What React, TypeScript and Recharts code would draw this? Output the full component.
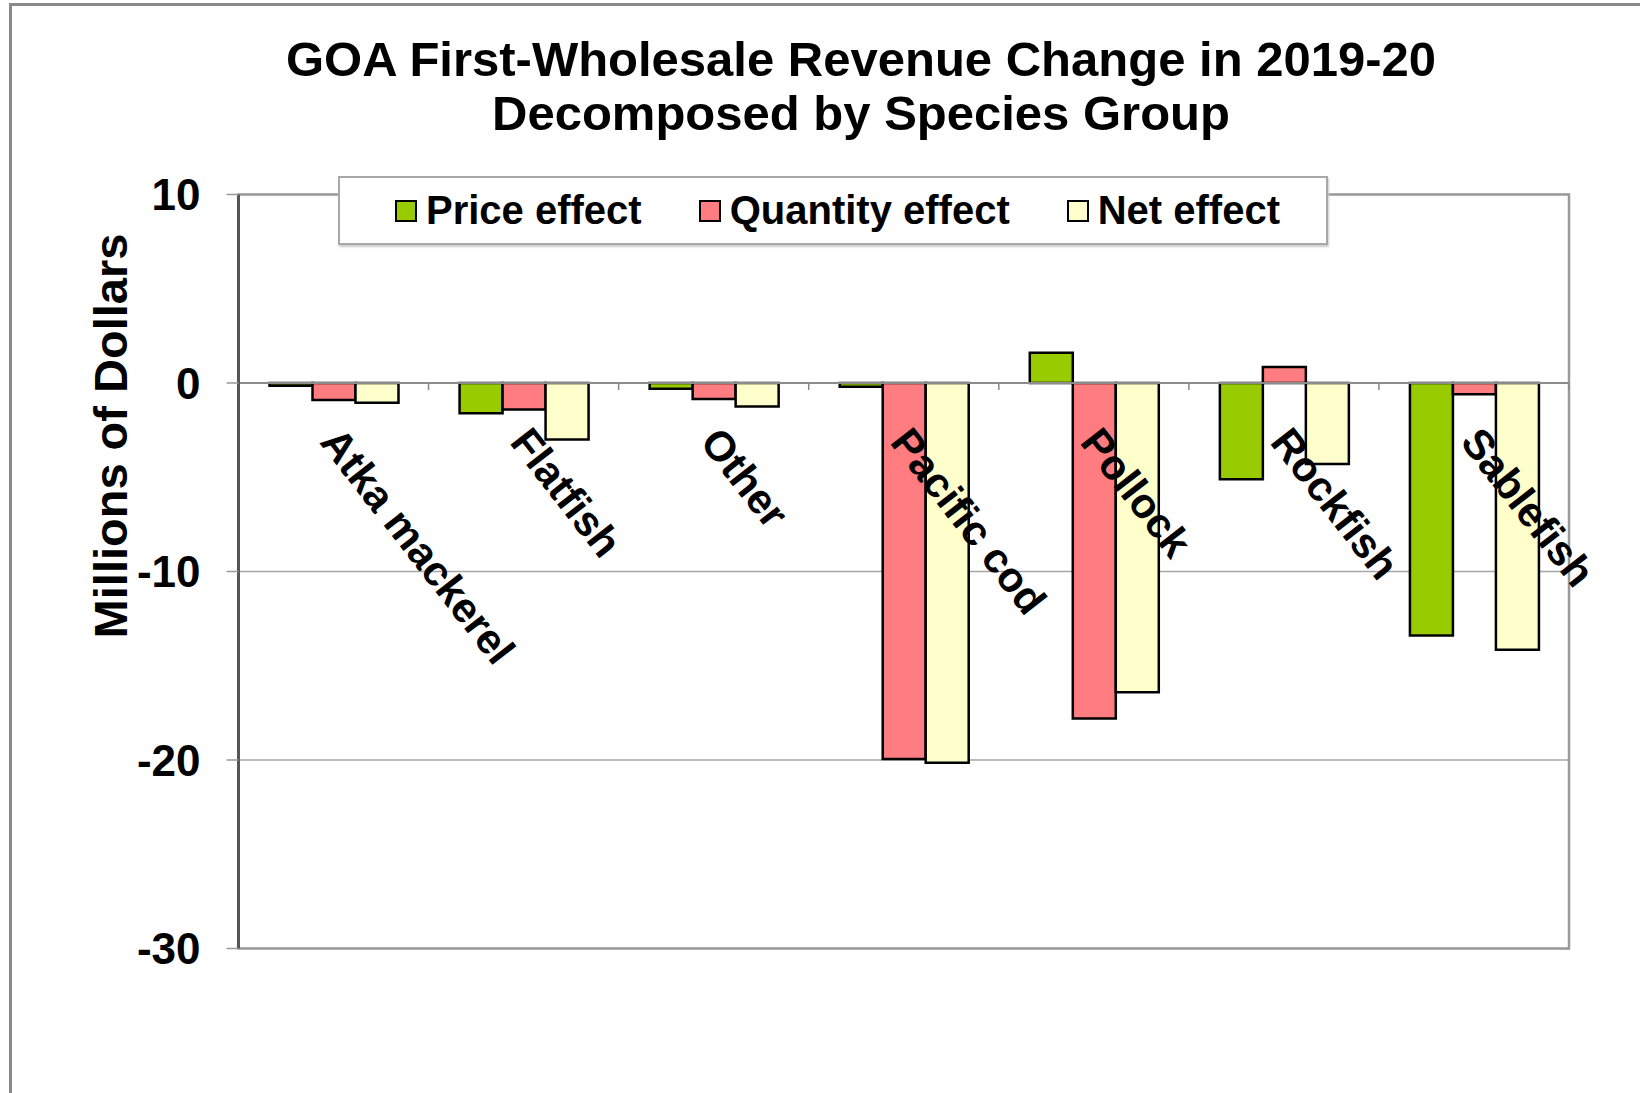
import React from "react";
import {
  BarChart,
  Bar,
  XAxis,
  YAxis,
  CartesianGrid,
  ReferenceLine,
  ReferenceArea,
} from "recharts";

const categories = [
  "Atka mackerel",
  "Flatfish",
  "Other",
  "Pacific cod",
  "Pollock",
  "Rockfish",
  "Sablefish",
];
const priceEffect = [-0.15, -1.6, -0.3, -0.2, 1.6, -5.1, -13.4];
const quantityEffect = [-0.9, -1.4, -0.85, -19.95, -17.8, 0.85, -0.6];
const netEffect = [-1.05, -3.0, -1.25, -20.15, -16.4, -4.3, -14.15];
const yTicks = [10, 0, -10, -20, -30];

const series = [
  { key: "price", label: "Price effect", color: "#99cc00" },
  { key: "quantity", label: "Quantity effect", color: "#ff7c80" },
  { key: "net", label: "Net effect", color: "#ffffcc" },
];

const rows = categories.map((name, i) => ({
  name,
  price: priceEffect[i],
  quantity: quantityEffect[i],
  net: netEffect[i],
}));

const FONT = "'Liberation Sans', Arial, sans-serif";
const W = 1640;
const H = 1093;
const PLOT_LEFT = 238.5;
const PLOT_RIGHT = 1569;
const PLOT_TOP = 194.5;
const PLOT_BOTTOM = 948.5;
const Y_AXIS_W = 100;
const X_AXIS_H = 1;
const Y_MIN = -30;
const Y_MAX = 10;

// category labels hang from the zero line, tilted down to the right
function CategoryTick(props: any) {
  const { x, payload } = props;
  const zeroY =
    PLOT_TOP + (Y_MAX / (Y_MAX - Y_MIN)) * (PLOT_BOTTOM - PLOT_TOP);
  const half = (PLOT_RIGHT - PLOT_LEFT) / categories.length / 2;
  return (
    <g>
      <line
        x1={x + half}
        x2={x + half}
        y1={zeroY}
        y2={zeroY + 7}
        stroke="#888"
        strokeWidth={1.5}
      />
      <text
        transform={`translate(${x + 9},${zeroY + 41}) rotate(52)`}
        textAnchor="start"
        dy="0.72em"
        fontFamily={FONT}
        fontWeight="bold"
        fontSize={42}
        fill="#000"
      >
        {payload.value}
      </text>
    </g>
  );
}

function YLabel() {
  return (
    <text
      transform="translate(127,436) rotate(-90)"
      textAnchor="middle"
      fontFamily={FONT}
      fontWeight="bold"
      fontSize={47}
      fill="#000"
    >
      Millions of Dollars
    </text>
  );
}

function LegendBox() {
  return (
    <div
      style={{
        position: "absolute",
        left: 338,
        top: 176,
        width: 990,
        height: 69,
        boxSizing: "border-box",
        background: "#fff",
        border: "2px solid #a8a8a8",
        boxShadow: "1px 2px 2px #ccc",
        display: "flex",
        alignItems: "center",
        paddingLeft: 55,
        gap: 57,
        fontFamily: FONT,
        fontWeight: "bold",
        fontSize: 40,
        color: "#000",
      }}
    >
      {series.map((s) => (
        <div key={s.key} style={{ display: "flex", alignItems: "center" }}>
          <span
            style={{
              boxSizing: "border-box",
              width: 22,
              height: 22,
              background: s.color,
              border: "2.5px solid #000",
              marginRight: 9,
            }}
          />
          <span>{s.label}</span>
        </div>
      ))}
    </div>
  );
}

export default function App() {
  return (
    <div
      style={{
        position: "absolute",
        left: 0,
        top: 0,
        width: W,
        height: H,
        background: "#fff",
        overflow: "hidden",
      }}
    >
      <div
        style={{
          position: "absolute",
          left: 9,
          top: 3,
          width: W - 9,
          height: H - 3,
          borderLeft: "3px solid #8a8a8a",
          borderTop: "3px solid #8a8a8a",
          boxSizing: "border-box",
        }}
      />
      <div
        style={{
          position: "absolute",
          left: 61,
          top: 32,
          width: 1600,
          textAlign: "center",
          fontFamily: FONT,
          fontWeight: "bold",
          fontSize: 49,
          lineHeight: "54px",
          color: "#000",
        }}
      >
        GOA First-Wholesale Revenue Change in 2019-20
        <br />
        Decomposed by Species Group
      </div>
      <div style={{ position: "absolute", left: 0, top: 0 }}>
        <BarChart
          width={W}
          height={H}
          data={rows}
          margin={{
            top: PLOT_TOP,
            right: W - PLOT_RIGHT,
            bottom: H - PLOT_BOTTOM - X_AXIS_H,
            left: PLOT_LEFT - Y_AXIS_W,
          }}
          barGap={0}
          barSize={43}
        >
          <CartesianGrid
            horizontal
            vertical={false}
            stroke="#a6a6a6"
            strokeWidth={1.5}
          />
          <ReferenceArea
            y1={Y_MIN}
            y2={Y_MAX}
            fill="none"
            stroke="#9a9a9a"
            strokeWidth={2.5}
          />
          <XAxis
            dataKey="name"
            height={X_AXIS_H}
            axisLine={false}
            tickLine={false}
            interval={0}
            tick={<CategoryTick />}
          />
          <YAxis
            width={Y_AXIS_W}
            domain={[Y_MIN, Y_MAX]}
            ticks={yTicks}
            allowDataOverflow
            axisLine={{ stroke: "#555", strokeWidth: 3 }}
            tickLine={{ stroke: "#999", strokeWidth: 1.5 }}
            tickSize={12}
            tickMargin={26}
            tick={{
              fontSize: 44,
              fontWeight: "bold",
              fill: "#000",
              fontFamily: FONT,
            }}
            label={<YLabel />}
          />
          <ReferenceLine y={0} stroke="#8c8c8c" strokeWidth={2} />
          {series.map((s) => (
            <Bar
              key={s.key}
              dataKey={s.key}
              name={s.label}
              fill={s.color}
              stroke="#000"
              strokeWidth={2.5}
              isAnimationActive={false}
            />
          ))}
        </BarChart>
      </div>
      <LegendBox />
    </div>
  );
}
